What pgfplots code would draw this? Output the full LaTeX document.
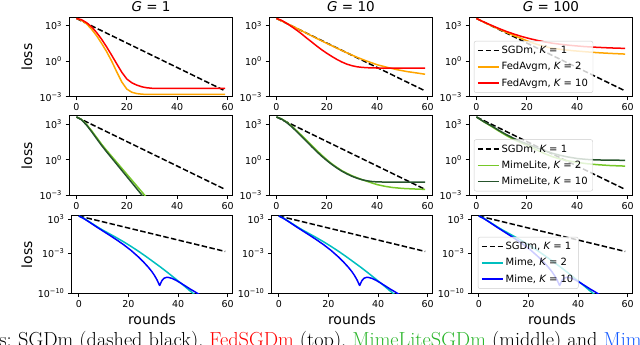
\documentclass[border=0pt]{standalone}
\usepackage{fontspec}
\usepackage{xcolor}
\usepackage{pgfplots}
\usepackage{pgfplotstable}
\pgfplotsset{compat=1.18}
\newfontfamily\dv{DejaVu Sans}

\definecolor{mplorange}{RGB}{255,165,0}
\definecolor{lgreen}{RGB}{118,200,40}
\definecolor{dgreen}{RGB}{38,84,44}
\definecolor{mcyan}{RGB}{0,191,191}
\definecolor{capgreen}{RGB}{40,180,40}
\definecolor{capblue}{RGB}{20,90,255}

% SGDm baseline, same in every panel (log10 of loss)
\pgfplotstableread{
x y
0 3.6
59 -2.5
}\sgdtop
\pgfplotstableread{
x y
0 3.55
59 -2.65
}\sgdbot
% Mime curves, nearly identical for all G
\pgfplotstableread{
x y
0 3.55
2 3.15
4 2.6
6 2.05
8 1.5
10 1.0
12 0.52
15 -0.2
18 -0.95
21 -1.75
24 -2.6
27 -3.5
30 -4.45
33 -5.4
36 -6.4
39 -7.45
42 -8.5
45 -9.6
47 -10.3
}\mimetwo
\pgfplotstableread{
x y
0 3.55
2 3.1
4 2.55
6 1.97
8 1.4
10 0.85
12 0.3
15 -0.55
18 -1.45
21 -2.45
24 -3.6
26 -4.45
28 -5.4
29.5 -6.2
30.5 -6.85
31.5 -7.6
32.2 -8.25
32.6 -8.6
33.0 -8.2
33.5 -7.75
34.3 -7.35
35.2 -7.2
36.2 -7.2
37.5 -7.35
39 -7.65
41 -8.15
43 -8.7
45 -9.25
47 -9.75
49 -10.3
50 -10.6
}\mimeten

\newcommand{\tk}{\dv\fontsize{9.5}{11}\selectfont}
\newcommand{\lgdfont}{\dv\fontsize{10}{12}\selectfont}
\newcommand{\lb}{\dv\fontsize{14}{16}\selectfont}

\pgfplotsset{
  panel/.style={
    scale only axis, anchor=north west,
    xmin=-2.95, xmax=61.95,
    xtick={0,20,40,60}, xticklabels={0,20,40,60},
    tick align=outside, tick pos=left,
    major tick length=3.5pt,
    tick style={black, line width=0.8pt},
    axis line style={black, line width=0.8pt},
    tick label style={font=\tk},
    legend cell align=left,
    legend image code/.code={\draw[#1, line width=1.5pt] (0pt,0pt) -- (21pt,0pt);},
    legend style={font=\lgdfont, draw=black!20, fill=white, fill opacity=0.8,
      text opacity=1, draw opacity=1, rounded corners=2pt,
      inner xsep=3pt, inner ysep=3pt,
      at={(0.03,0.05)}, anchor=south west, row sep=3.2pt},
    every axis plot/.append style={line width=1.5pt, line join=round},
  },
  rowa/.style={panel, width=163.5pt, height=79.5pt, ymin=-3, ymax=3.7,
    ytick={-3,0,3},
    yticklabels={10\textsuperscript{−3},10\textsuperscript{0},10\textsuperscript{3}}},
  rowc/.style={panel, width=161pt, height=77.8pt, ymin=-10, ymax=3.6,
    ytick={-10,-3,3},
    yticklabels={10\textsuperscript{−10},10\textsuperscript{−3},10\textsuperscript{3}}},
  sgd/.style={black, dash pattern=on 5.5pt off 2.4pt},
}

\begin{document}
\begin{tikzpicture}[x=1pt,y=1pt]
\path[use as bounding box, clip] (0,0) rectangle (640,-345);

% ---------- row 1: FedAvgm ----------
\begin{axis}[rowa, at={(69pt,-17.3pt)}]
  \addplot[sgd] table {\sgdtop};
  \addplot[mplorange] coordinates {(0,3.6)(2,3.45)(4,3.15)(6,2.7)(8,2.15)(10,1.5)(12,0.8)(14,0.0)(16,-0.9)(18,-1.75)(20,-2.35)(22,-2.62)(24,-2.73)(26,-2.78)(28,-2.8)(59,-2.8)};
  \addplot[red] coordinates {(0,3.6)(2,3.5)(4,3.25)(6,2.9)(8,2.42)(10,1.85)(12,1.2)(14,0.5)(16,-0.22)(18,-0.93)(20,-1.5)(22,-1.82)(24,-2.02)(26,-2.16)(28,-2.24)(30,-2.28)(33,-2.3)(59,-2.3)};
\end{axis}
\begin{axis}[rowa, at={(269pt,-17.3pt)}]
  \addplot[sgd] table {\sgdtop};
  \addplot[mplorange] coordinates {(0,3.6)(4,3.2)(8,2.78)(12,2.35)(16,1.92)(20,1.5)(24,1.1)(28,0.7)(32,0.33)(36,0.0)(40,-0.3)(44,-0.52)(48,-0.72)(52,-0.88)(56,-1.0)(59,-1.1)};
  \addplot[red] coordinates {(0,3.6)(2,3.45)(4,3.2)(6,2.92)(8,2.62)(10,2.3)(12,1.95)(14,1.62)(16,1.28)(18,0.96)(20,0.67)(22,0.4)(24,0.15)(26,-0.07)(28,-0.25)(30,-0.38)(32,-0.47)(34,-0.52)(37,-0.56)(41,-0.58)(59,-0.58)};
\end{axis}
\begin{axis}[rowa, at={(469pt,-17.3pt)}]
  \addplot[sgd] table {\sgdtop};
  \addlegendentry{SGDm, {\itshape K} = 1}
  \addplot[mplorange] coordinates {(0,3.6)(3,3.28)(6,2.98)(9,2.7)(12,2.42)(15,2.15)(18,1.9)(21,1.64)(24,1.42)(27,1.24)(30,1.1)(34,0.98)(38,0.89)(43,0.8)(48,0.72)(53,0.66)(59,0.6)};
  \addlegendentry{FedAvgm, {\itshape K} = 2}
  \addplot[red] coordinates {(0,3.6)(3,3.3)(6,3.02)(9,2.75)(12,2.5)(15,2.28)(18,2.08)(21,1.91)(24,1.76)(27,1.63)(30,1.52)(34,1.41)(38,1.32)(43,1.23)(48,1.17)(53,1.12)(59,1.08)};
  \addlegendentry{FedAvgm, {\itshape K} = 10}
\end{axis}

% ---------- row 2: MimeLite ----------
\begin{axis}[rowa, at={(69pt,-115.8pt)}]
  \addplot[sgd] table {\sgdtop};
  \addplot[lgreen] coordinates {(0,3.6)(2,3.4)(4,2.98)(6,2.45)(8,1.88)(10,1.3)(12,0.78)(14,0.28)(16,-0.22)(18,-0.72)(20,-1.22)(22,-1.72)(24,-2.22)(26,-2.72)(28,-3.22)(30,-3.72)};
  \addplot[dgreen] coordinates {(0,3.6)(2,3.37)(4,2.92)(6,2.37)(8,1.78)(10,1.2)(12,0.66)(14,0.14)(16,-0.38)(18,-0.9)(20,-1.42)(22,-1.94)(24,-2.46)(26,-2.98)(28,-3.5)(30,-4.0)};
\end{axis}
\begin{axis}[rowa, at={(269pt,-115.8pt)}]
  \addplot[sgd] table {\sgdtop};
  \addplot[lgreen] coordinates {(0,3.6)(2,3.45)(4,3.18)(6,2.85)(8,2.45)(10,2.05)(12,1.63)(14,1.2)(16,0.78)(18,0.38)(20,0.0)(22,-0.35)(24,-0.65)(26,-0.93)(28,-1.15)(30,-1.35)(32,-1.52)(34,-1.68)(36,-1.83)(38,-1.97)(40,-2.1)(43,-2.24)(46,-2.34)(50,-2.42)(55,-2.47)(59,-2.5)};
  \addplot[dgreen] coordinates {(0,3.6)(2,3.43)(4,3.14)(6,2.79)(8,2.38)(10,1.96)(12,1.53)(14,1.1)(16,0.68)(18,0.29)(20,-0.07)(22,-0.4)(24,-0.7)(26,-0.97)(28,-1.2)(30,-1.4)(32,-1.56)(34,-1.69)(36,-1.78)(38,-1.84)(40,-1.87)(44,-1.89)(59,-1.89)};
\end{axis}
\begin{axis}[rowa, at={(469pt,-115.8pt)}]
  \addplot[sgd] table {\sgdtop};
  \addlegendentry{SGDm, {\itshape K} = 1}
  \addplot[lgreen] coordinates {(0,3.6)(3,3.18)(6,2.8)(9,2.4)(12,2.02)(15,1.68)(18,1.4)(21,1.13)(24,0.82)(27,0.52)(30,0.27)(33,0.07)(36,-0.08)(40,-0.23)(44,-0.34)(48,-0.42)(53,-0.49)(59,-0.54)};
  \addlegendentry{MimeLite, {\itshape K} = 2}
  \addplot[dgreen] coordinates {(0,3.6)(3,3.2)(6,2.85)(9,2.46)(12,2.1)(15,1.78)(18,1.5)(21,1.26)(24,1.0)(27,0.76)(30,0.55)(33,0.38)(36,0.24)(40,0.1)(44,0.02)(48,-0.02)(53,-0.04)(59,-0.05)};
  \addlegendentry{MimeLite, {\itshape K} = 10}
\end{axis}

% ---------- row 3: Mime ----------
\begin{axis}[rowc, at={(71.5pt,-215.7pt)}]
  \addplot[sgd] table {\sgdbot};
  \addplot[mcyan] table {\mimetwo};
  \addplot[blue] table {\mimeten};
\end{axis}
\begin{axis}[rowc, at={(271.5pt,-215.7pt)}]
  \addplot[sgd] table {\sgdbot};
  \addplot[mcyan] table {\mimetwo};
  \addplot[blue] table {\mimeten};
\end{axis}
\begin{axis}[rowc, at={(471.5pt,-215.7pt)}, legend style={at={(0.04,0.06)}}]
  \addplot[sgd] table {\sgdbot};
  \addlegendentry{SGDm, {\itshape K} = 1}
  \addplot[mcyan] table {\mimetwo};
  \addlegendentry{Mime, {\itshape K} = 2}
  \addplot[blue] table {\mimeten};
  \addlegendentry{Mime, {\itshape K} = 10}
\end{axis}

% titles and labels
\node[anchor=base, font=\dv\fontsize{13.5}{15}\selectfont] at (151,-11.7) {{\itshape G} = 1};
\node[anchor=base, font=\dv\fontsize{13.5}{15}\selectfont] at (351,-11.7) {{\itshape G} = 10};
\node[anchor=base, font=\dv\fontsize{13.5}{15}\selectfont] at (551,-11.7) {{\itshape G} = 100};
\node[rotate=90, font=\lb] at (27,-57) {loss};
\node[rotate=90, font=\lb] at (27,-155.5) {loss};
\node[rotate=90, font=\lb] at (27,-254.5) {loss};
\node[anchor=base, font=\lb] at (152,-324) {rounds};
\node[anchor=base, font=\lb] at (352,-324) {rounds};
\node[anchor=base, font=\lb] at (552,-324) {rounds};

% caption line, cut by the lower edge as in the source
\node[anchor=base west, inner sep=0pt, font=\fontsize{20.3}{22}\selectfont] at (18,-346)
  {SGDm (dashed black), \textcolor{red}{FedSGDm} (top), \textcolor{capgreen}{MimeLiteSGDm} (middle) and \textcolor{capblue}{MimeSGDm} (bottom).};
\node[anchor=base east, inner sep=0pt, font=\fontsize{20.3}{22}\selectfont] at (12,-346) {curves:};
\end{tikzpicture}
\end{document}
